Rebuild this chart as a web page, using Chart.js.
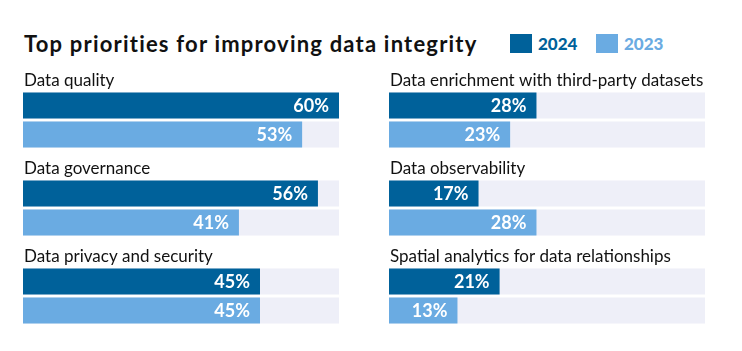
<!DOCTYPE html>
<html>
<head>
<meta charset="utf-8">
<script src="https://cdn.jsdelivr.net/npm/chart.js@4"></script>
<style>
  body { margin: 0; background: #fff; font-family: Lato, sans-serif; }
  #wrap { position: relative; width: 742px; height: 351px; }
  #title { position: absolute; left: 24px; top: 30px; font-size: 22px; font-weight: 700; letter-spacing: 1.2px; color: #111; white-space: nowrap; }
  .key { position: absolute; top: 34px; height: 19px; font-size: 17px; font-weight: 700; line-height: 19px; white-space: nowrap; }
  .key span { display: inline-block; width: 22px; height: 19px; vertical-align: top; margin-right: 6px; }
  .box { position: absolute; top: 56px; width: 316px; height: 284px; }
</style>
</head>
<body>
<div id="wrap">
  <div id="title">Top priorities for improving data integrity</div>
  <div class="key" id="key24" style="left:510px"></div>
  <div class="key" id="key23" style="left:596px"></div>
  <div class="box" style="left:23px"><canvas id="left-chart"></canvas></div>
  <div class="box" style="left:389px"><canvas id="right-chart"></canvas></div>
</div>
<script>
//data
const leftCategories = ["Data quality", "Data governance", "Data privacy and security"];
const left2024 = [60, 56, 45];
const left2023 = [53, 41, 45];

const rightCategories = ["Data enrichment with third-party datasets", "Data observability", "Spatial analytics for data relationships"];
const right2024 = [28, 17, 21];
const right2023 = [23, 28, 13];

const seriesNames = ["2024", "2023"];
const scaleMax = 60;

const dark = '#00619a';
const light = '#6aabe2';
const track = '#eeeff8';

//legend
document.getElementById("key24").innerHTML = `<span style="background:${dark}"></span><b style="color:${dark}">${seriesNames[0]}</b>`;
document.getElementById("key23").innerHTML = `<span style="background:${light}"></span><b style="color:${light}">${seriesNames[1]}</b>`;

//grey track behind every bar + labels
const barExtras = {
    id: 'barExtras',
    beforeDatasetsDraw(chart) {
        const ctx = chart.ctx;
        const x = chart.scales.x;
        ctx.save();
        ctx.fillStyle = track;
        chart.data.datasets.forEach((ds, i) => {
            chart.getDatasetMeta(i).data.forEach(bar => {
                const h = bar.height;
                ctx.fillRect(x.getPixelForValue(0), bar.y - h / 2, x.getPixelForValue(scaleMax) - x.getPixelForValue(0), h);
            });
        });
        ctx.restore();
    },
    afterDatasetsDraw(chart) {
        const ctx = chart.ctx;
        const x = chart.scales.x;
        const y = chart.scales.y;
        const band = y.height / chart.data.labels.length;
        ctx.save();
        //category names above each pair of bars
        ctx.fillStyle = '#111';
        ctx.font = '17px Lato';
        ctx.textAlign = 'left';
        ctx.textBaseline = 'alphabetic';
        chart.data.labels.forEach((lab, i) => {
            ctx.fillText(lab, x.getPixelForValue(0) + 1, y.getPixelForValue(i) - band / 2 + 10);
        });
        //values inside bars
        ctx.fillStyle = '#fff';
        ctx.font = 'bold 18px Lato';
        ctx.textAlign = 'right';
        ctx.textBaseline = 'middle';
        chart.data.datasets.forEach((ds, i) => {
            chart.getDatasetMeta(i).data.forEach((bar, j) => {
                ctx.fillText(ds.data[j] + '%', bar.x - 10, bar.y + 1);
            });
        });
        ctx.restore();
    }
};

function makeChart(id, labels, d24, d23) {
    return new Chart(document.getElementById(id), {
        type: 'bar',
        data: {
            labels: labels,
            datasets: [
                { label: seriesNames[0], data: d24, backgroundColor: dark },
                { label: seriesNames[1], data: d23, backgroundColor: light }
            ]
        },
        options: {
            indexAxis: 'y',
            responsive: true,
            maintainAspectRatio: false,
            animation: false,
            categoryPercentage: 0.66,
            barPercentage: 0.897,
            layout: { padding: { top: 20 } },
            scales: {
                x: { display: false, min: 0, max: scaleMax },
                y: { display: false }
            },
            plugins: {
                legend: { display: false },
                tooltip: { enabled: false }
            }
        },
        plugins: [barExtras]
    });
}

makeChart('left-chart', leftCategories, left2024, left2023);
makeChart('right-chart', rightCategories, right2024, right2023);
</script>
</body>
</html>
